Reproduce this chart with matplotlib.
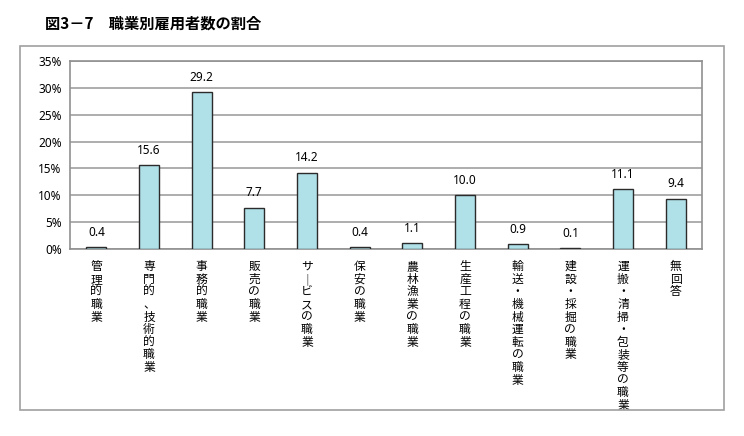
import matplotlib
matplotlib.use("Agg")
import matplotlib.pyplot as plt
from matplotlib.patches import Rectangle

plt.rcParams['font.family'] = ['Noto Sans CJK JP', 'DejaVu Sans']

title = "図3－7　職業別雇用者数の割合"
categories = ["管理的職業", "専門的、技術的職業", "事務的職業", "販売の職業", "サ｜ビスの職業",
              "保安の職業", "農林漁業の職業", "生産工程の職業", "輸送・機械運転の職業",
              "建設・採掘の職業", "運搬・清掃・包装等の職業", "無回答"]
values = [0.4, 15.6, 29.2, 7.7, 14.2, 0.4, 1.1, 10.0, 0.9, 0.1, 11.1, 9.4]
yticks = [0, 5, 10, 15, 20, 25, 30, 35]
ytick_labels = ["0%", "5%", "10%", "15%", "20%", "25%", "30%", "35%"]

W, H = 744, 436
fig = plt.figure(figsize=(W / 100, H / 100), dpi=100)
ax = fig.add_axes([70 / W, 1 - 249 / H, (702 - 70) / W, (249 - 61) / H])

x = list(range(len(values)))
ax.bar(x, values, width=0.38, color="#B0E0E8", edgecolor="#2b2b2b", linewidth=1.0, zorder=3)
ax.set_xlim(-0.5, len(values) - 0.5)
ax.set_ylim(0, 35)
ax.set_yticks(yticks)
ax.set_yticklabels(ytick_labels, fontsize=8.5, family=['Noto Sans', 'DejaVu Sans'])
ax.yaxis.grid(True, color="#a0a0a0", linewidth=1.2, zorder=0)
ax.set_axisbelow(True)
for s in ax.spines.values():
    s.set_color("#909090")
    s.set_linewidth(1.2)
ax.tick_params(axis='y', length=0, pad=6)
ax.set_xticks(x)
ax.set_xticklabels(["\n".join(c) for c in categories], fontsize=8.5, linespacing=0.96,
                   va='top')
ax.tick_params(axis='x', length=0, pad=8)

for xi, v in zip(x, values):
    ax.annotate(f"{v:.1f}", (xi, v), xytext=(0, 6), textcoords='offset points',
                ha='center', va='bottom', fontsize=8.5, family=['Noto Sans', 'DejaVu Sans'])

fig.text(45 / W, 1 - 24 / H, title, fontsize=11, fontweight='bold', ha='left', va='center')

fig.patches.append(Rectangle((20 / W, 1 - 410 / H), (724 - 20) / W, (410 - 46) / H,
                             transform=fig.transFigure, fill=False, edgecolor="#a0a0a0",
                             linewidth=1.2))

fig.savefig("out.png", dpi=100)
